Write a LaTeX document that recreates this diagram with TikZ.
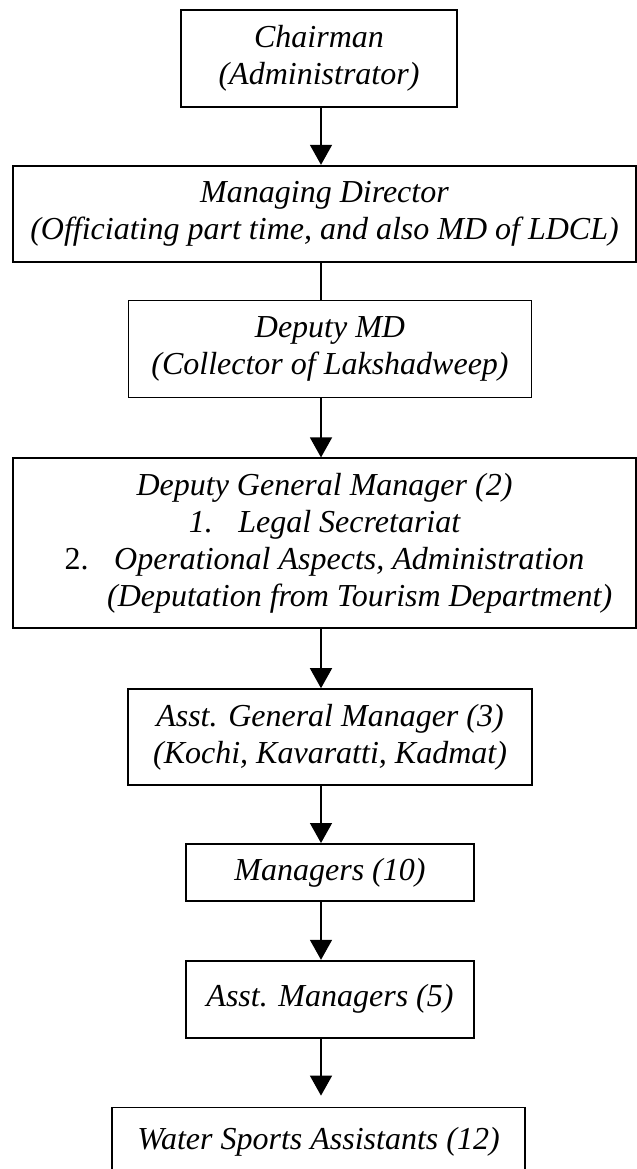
\documentclass[tikz,border=0pt]{standalone}
\usepackage{fontspec}
\setmainfont{Liberation Serif}
\usetikzlibrary{arrows.meta,positioning}

\begin{document}
\begin{tikzpicture}[
  post/.style={draw,line width=.9pt,align=center,inner sep=0pt,
    font=\fontsize{16}{18.5}\selectfont\itshape},
  link/.style={line width=.75pt},
  down/.style={link,-{Triangle[length=10pt,width=11pt]}}]

  \useasboundingbox (0,0) rectangle (318.5pt,-584.5pt);
  \clip (0,0) rectangle (318.5pt,-584.5pt);
  \coordinate (spine) at (160.5pt,0);

  \node[post,minimum width=138pt,minimum height=48.5pt,anchor=north] (chair) at (159.5pt,-4.5pt)
    {Chairman\\(Administrator)};
  \node[post,minimum width=311.5pt,minimum height=48pt] (md) [below=28.5pt of chair,xshift=2.75pt]
    {Managing Director\\(Officiating part time, and also MD of LDCL)};
  \node[post,minimum width=201.5pt,minimum height=48.5pt] (dmd) [below=18.5pt of md,xshift=2.75pt]
    {Deputy MD\\(Collector of Lakshadweep)};
  \node[post,minimum width=311.5pt,minimum height=85pt] (dgm) [below=29.5pt of dmd,xshift=-2.75pt]
    {Deputy General Manager (2)\\
     1.\hspace{0.8em}Legal Secretariat\\
     {\upshape 2.}\hspace{0.8em}Operational Aspects, Administration\\
     \hspace*{2.2em}(Deputation from Tourism Department)};
  \node[post,minimum width=202pt,minimum height=48pt] (agm) [below=29.5pt of dgm,xshift=2.75pt]
    {Asst. General Manager (3)\\(Kochi, Kavaratti, Kadmat)};
  \node[post,minimum width=144pt,minimum height=28.5pt] (mgr) [below=28.5pt of agm]
    {Managers (10)};
  \node[post,minimum width=144pt,minimum height=38.5pt] (amgr) [below=29pt of mgr]
    {Asst. Managers (5)};
  \node[post,minimum width=206.5pt,inner ysep=10pt] (wsa) [below=34pt of amgr,xshift=-5.75pt]
    {Water Sports Assistants (12)\\ \strut};

  \draw[down] (chair.south -| spine) -- (md.north -| spine);
  \draw[link] (md.south -| spine) -- (dmd.north -| spine);
  \draw[down] (dmd.south -| spine) -- (dgm.north -| spine);
  \draw[down] (dgm.south -| spine) -- (agm.north -| spine);
  \draw[down] (agm.south -| spine) -- (mgr.north -| spine);
  \draw[down] (mgr.south -| spine) -- (amgr.north -| spine);
  \draw[down,shorten >=5.5pt] (amgr.south -| spine) -- (wsa.north -| spine);
\end{tikzpicture}
\end{document}
